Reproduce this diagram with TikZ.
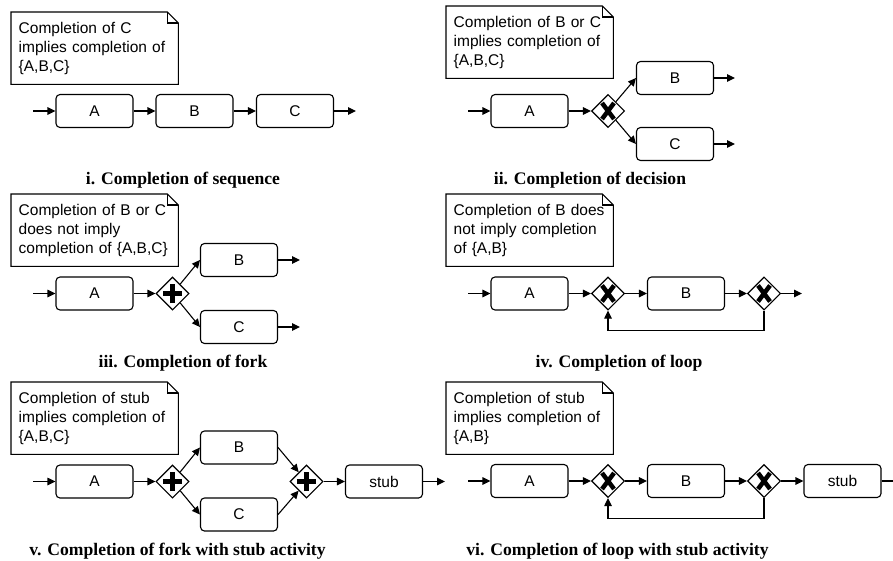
\documentclass[tikz,border=0pt]{standalone}
\usepackage{fontspec}
\setmainfont{Liberation Serif}
\setsansfont{Liberation Sans}
\usetikzlibrary{shapes.geometric,arrows.meta}
\tikzset{note/.style={anchor=north west,align=left,text width=152pt,inner xsep=7.5pt,inner ysep=0pt,minimum height=72pt,font=\sffamily\fontsize{15.5}{19}\selectfont}}
\newcommand{\dogear}[1]{%
  \draw[line width=1.1pt] (#1.south west) -- (#1.north west) -- ([xshift=-11pt]#1.north east)
    -- ([yshift=-11pt]#1.north east) -- (#1.south east) -- cycle;
  \draw[line width=1.1pt] ([xshift=-11pt]#1.north east) |- ([yshift=-11pt]#1.north east);}

\begin{document}
\begin{tikzpicture}[x=1pt,y=-1pt,
    act/.style={draw,line width=1.1pt,rounded corners=4pt,minimum width=77pt,minimum height=33pt,inner sep=0pt,font=\sffamily\fontsize{15.5}{19}\selectfont},
    gate/.style={diamond,draw,fill=white,line width=1.1pt,minimum width=33pt,minimum height=33pt,inner sep=0pt},
    xgate/.style={gate,path picture={
        \draw[line width=4.5pt] ([shift={(-6pt,-8pt)}]path picture bounding box.center) -- ([shift={(6pt,8pt)}]path picture bounding box.center);
        \draw[line width=4.5pt] ([shift={(6pt,-8pt)}]path picture bounding box.center) -- ([shift={(-6pt,8pt)}]path picture bounding box.center);}},
    pgate/.style={gate,path picture={
        \draw[line width=4.5pt] ([xshift=-9.5pt]path picture bounding box.center) -- ([xshift=9.5pt]path picture bounding box.center);
        \draw[line width=4.5pt] ([yshift=-9.5pt]path picture bounding box.center) -- ([yshift=9.5pt]path picture bounding box.center);}},
    flow/.style={line width=1.1pt,-{Triangle[length=8pt,width=7.5pt]}},
    caption/.style={anchor=base,font=\bfseries\fontsize{17.6}{20}\selectfont}]
    \clip (0,0) rectangle (893,560);

    \node[note] (n1) at (11,12) {Completion of C\\implies completion of\\\{A,B,C\}};
    \dogear{n1}
    \coordinate (s1) at (33,111);
    \node[act] (a1) at (94.5,111) {A};
    \node[act] (b1) at (194.5,111) {B};
    \node[act] (c1) at (295,111) {C};
    \coordinate (e1) at (356,111);
    \draw[flow] (s1) -- (a1);
    \draw[flow] (a1) -- (b1);
    \draw[flow] (b1) -- (c1);
    \draw[flow] (c1) -- (e1);
    \node[caption] (t1) at (183,184) {i. Completion of sequence};

    \node[note] (n2) at (446,6) {Completion of B or C\\implies completion of\\\{A,B,C\}};
    \dogear{n2}
    \coordinate (s2) at (468,111);
    \node[act] (a2) at (529.5,111) {A};
    \node[xgate] (g2) at (608,111) {};
    \node[act] (b2) at (675,78) {B};
    \node[act] (c2) at (675,144) {C};
    \coordinate (e2b) at (735,78);
    \coordinate (e2c) at (735,144);
    \draw[flow] (s2) -- (a2);
    \draw[flow] (a2) -- (g2);
    \draw[flow] (g2) -- (b2.west);
    \draw[flow] (g2) -- (c2.west);
    \draw[flow] (b2) -- (e2b);
    \draw[flow] (c2) -- (e2c);
    \node[caption] (t2) at (590,184) {ii. Completion of decision};

    \node[note] (n3) at (11,194) {Completion of B or C\\does not imply\\completion of \{A,B,C\}};
    \dogear{n3}
    \coordinate (s3) at (33,293.5);
    \node[act] (a3) at (94.5,293.5) {A};
    \node[pgate] (g3) at (172.5,293.5) {};
    \node[act] (b3) at (239,260) {B};
    \node[act] (c3) at (239,327) {C};
    \coordinate (e3b) at (300,260);
    \coordinate (e3c) at (300,327);
    \draw[flow] (s3) -- (a3);
    \draw[flow] (a3) -- (g3);
    \draw[flow] (g3) -- (b3.west);
    \draw[flow] (g3) -- (c3.west);
    \draw[flow] (b3) -- (e3b);
    \draw[flow] (c3) -- (e3c);
    \node[caption] (t3) at (183,367) {iii. Completion of fork};

    \node[note] (n4) at (446,194) {Completion of B does\\not imply completion\\of \{A,B\}};
    \dogear{n4}
    \coordinate (s4) at (468,293.5);
    \node[act] (a4) at (529.5,293.5) {A};
    \node[xgate] (g4) at (608,293.5) {};
    \node[act] (b4) at (686,293.5) {B};
    \node[xgate] (h4) at (764,293.5) {};
    \coordinate (e4) at (802,293.5);
    \draw[flow] (s4) -- (a4);
    \draw[flow] (a4) -- (g4);
    \draw[flow] (g4) -- (b4);
    \draw[flow] (b4) -- (h4);
    \draw[flow] (h4) -- (e4);
    \draw[flow] (h4.south) -- ++(0,20) -| (g4.south);
    \node[caption] (t4) at (619,367) {iv. Completion of loop};

    \node[note] (n5) at (11,382) {Completion of stub\\implies completion of\\\{A,B,C\}};
    \dogear{n5}
    \coordinate (s5) at (33,481.5);
    \node[act] (a5) at (94.5,481.5) {A};
    \node[pgate] (g5) at (172.5,481.5) {};
    \node[act] (b5) at (239,447.5) {B};
    \node[act] (c5) at (239,514.5) {C};
    \node[pgate] (h5) at (306.5,481.5) {};
    \node[act] (u5) at (384,481.5) {stub};
    \coordinate (e5) at (445,481.5);
    \draw[flow] (s5) -- (a5);
    \draw[flow] (a5) -- (g5);
    \draw[flow] (g5) -- (b5.west);
    \draw[flow] (g5) -- (c5.west);
    \draw[flow] (b5.east) -- (h5);
    \draw[flow] (c5.east) -- (h5);
    \draw[flow] (h5) -- (u5);
    \draw[flow] (u5) -- (e5);
    \node[caption] (t5) at (177.5,555) {v. Completion of fork with stub activity};

    \node[note] (n6) at (446,382) {Completion of stub\\implies completion of\\\{A,B\}};
    \dogear{n6}
    \coordinate (s6) at (468,481);
    \node[act] (a6) at (529.5,481) {A};
    \node[xgate] (g6) at (608,481) {};
    \node[act] (b6) at (686,481) {B};
    \node[xgate] (h6) at (764,481) {};
    \node[act] (u6) at (842.5,481) {stub};
    \coordinate (e6) at (905,481);
    \draw[flow] (s6) -- (a6);
    \draw[flow] (a6) -- (g6);
    \draw[flow] (g6) -- (b6);
    \draw[flow] (b6) -- (h6);
    \draw[flow] (h6) -- (u6);
    \draw[flow] (u6) -- (e6);
    \draw[flow] (h6.south) -- ++(0,20.5) -| (g6.south);
    \node[caption] (t6) at (617.5,555) {vi. Completion of loop with stub activity};
\end{tikzpicture}
\end{document}
